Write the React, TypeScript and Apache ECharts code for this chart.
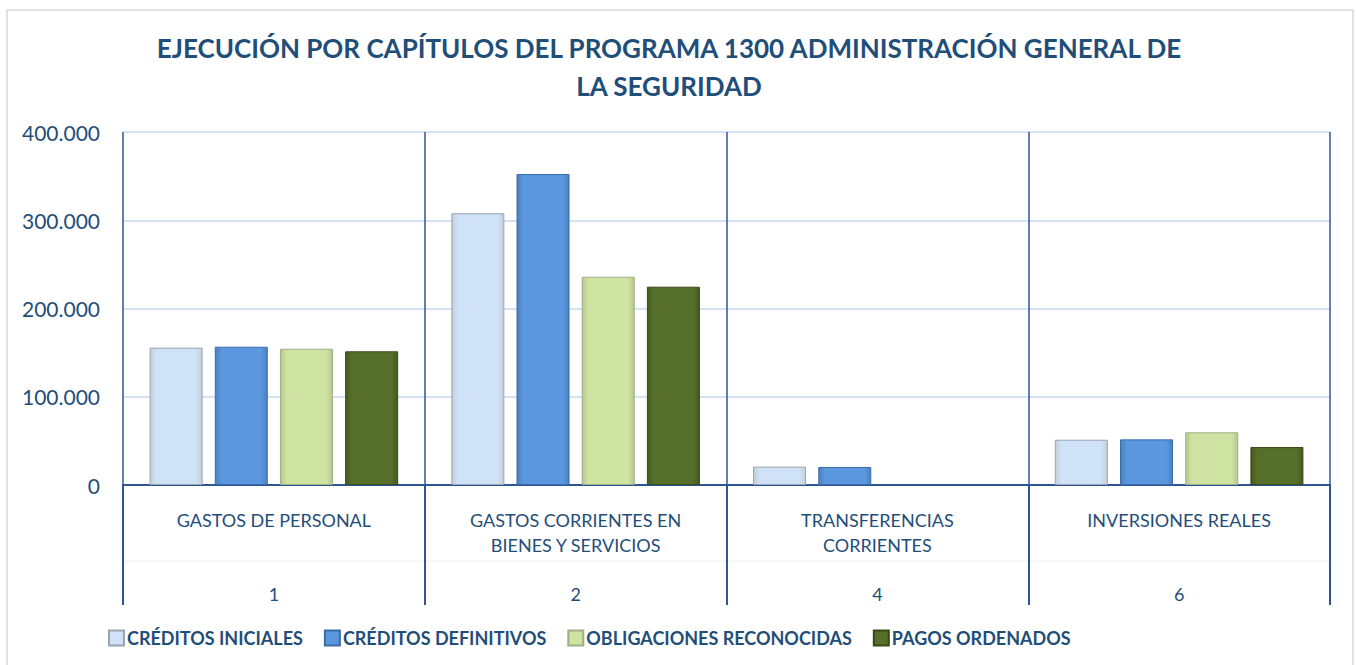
import React, { useEffect, useRef } from "react";
import * as echarts from "echarts";

const categories = [
  "GASTOS DE PERSONAL\n\n\n1",
  "GASTOS CORRIENTES EN\nBIENES Y SERVICIOS\n\n2",
  "TRANSFERENCIAS\nCORRIENTES\n\n4",
  "INVERSIONES REALES\n\n\n6",
];
const seriesNames = [
  "CRÉDITOS INICIALES",
  "CRÉDITOS DEFINITIVOS",
  "OBLIGACIONES RECONOCIDAS",
  "PAGOS ORDENADOS",
];
const creditosIniciales = [155600, 307900, 20800, 51300];
const creditosDefinitivos = [156700, 352400, 20400, 51700];
const obligacionesReconocidas = [154400, 236000, 0, 59700];
const pagosOrdenados = [151500, 224700, 0, 43000];
const yTicks = [0, 100000, 200000, 300000, 400000];

const fills = ["#CFE2F8", "#5B97DE", "#CFE3A3", "#566F2A"];
const edges = ["#C4CDD6", "#4A80C2", "#B7C68F", "#435A1E"];
const borders = ["#98A4B0", "#3C6DA8", "#A0AE84", "#384A18"];
const TXT = "#1F4E79";
const FONT = "Lato, 'Open Sans', sans-serif";

export default function App() {
  const ref = useRef<HTMLDivElement>(null);
  useEffect(() => {
    if (!ref.current) return;
    const chart = echarts.init(ref.current, undefined, { renderer: "svg" });
    const data = [creditosIniciales, creditosDefinitivos, obligacionesReconocidas, pagosOrdenados];
    const fmt = (v: number) => String(Math.round(v)).replace(/\B(?=(\d{3})+(?!\d))/g, ".");
    chart.setOption({
      animation: false,
      textStyle: { fontFamily: FONT },
      title: {
        text: "EJECUCIÓN POR CAPÍTULOS DEL PROGRAMA 1300 ADMINISTRACIÓN GENERAL DE\nLA SEGURIDAD",
        left: 664,
        textAlign: "center",
        top: 24,
        textStyle: { fontFamily: FONT, fontWeight: "bold", fontSize: 26, color: TXT, lineHeight: 38 },
      },
      legend: {
        bottom: 13,
        left: 103,
        itemWidth: 15,
        itemHeight: 15,
        itemGap: 21,
        icon: "rect",
        textStyle: { fontFamily: FONT, fontWeight: "bold", fontSize: 18, color: TXT, padding: [0, 0, 0, -2] },
        data: seriesNames,
      },
      grid: { left: 123, right: 27, top: 132, bottom: 180, containLabel: false },
      xAxis: {
        type: "category",
        data: categories,
        axisLine: { show: true, lineStyle: { color: "#2F5597", width: 2 } },
        axisTick: { show: true, length: 120, interval: 0, lineStyle: { color: "#2F5597", width: 2 } },
        splitLine: { show: true, interval: 0, lineStyle: { color: "#2F5597", width: 1.5 } },
        axisLabel: {
          interval: 0,
          margin: 23,
          color: TXT,
          fontSize: 18,
          lineHeight: 24.5,
          fontFamily: FONT,
        },
      },
      yAxis: {
        type: "value",
        min: 0,
        max: yTicks[yTicks.length - 1],
        interval: yTicks[1] - yTicks[0],
        axisLine: { show: false },
        axisTick: { show: false },
        splitLine: { lineStyle: { color: "#C5D9F1", width: 1.5 } },
        axisLabel: { color: TXT, fontSize: 21, margin: 23, fontFamily: FONT, formatter: fmt },
      },
      graphic: [
        {
          type: "rect",
          shape: { x: 7, y: 10, width: 1346, height: 680 },
          style: { fill: "none", stroke: "#D9D9D9", lineWidth: 1.5 },
          silent: true,
        },
        {
          type: "line",
          shape: { x1: 123, y1: 561, x2: 1330, y2: 561 },
          style: { stroke: "#EDF2F8", lineWidth: 1 },
          silent: true,
        },
      ],
      series: seriesNames.map((name, i) => ({
        name,
        type: "bar",
        data: data[i].map((v) => (v === 0 ? null : v)),
        barWidth: 53,
        barGap: "23%",
        itemStyle: {
          color: {
            type: "linear",
            x: 0,
            y: 0,
            x2: 1,
            y2: 0,
            colorStops: [
              { offset: 0, color: edges[i] },
              { offset: 0.12, color: fills[i] },
              { offset: 0.88, color: fills[i] },
              { offset: 1, color: edges[i] },
            ],
          },
          borderColor: borders[i],
          borderWidth: 1,
        },
      })),
    });
    return () => chart.dispose();
  }, []);
  return (
    <div
      ref={ref}
      style={{ position: "fixed", left: 0, top: 0, width: 1357, height: 665, background: "#fff" }}
    />
  );
}
